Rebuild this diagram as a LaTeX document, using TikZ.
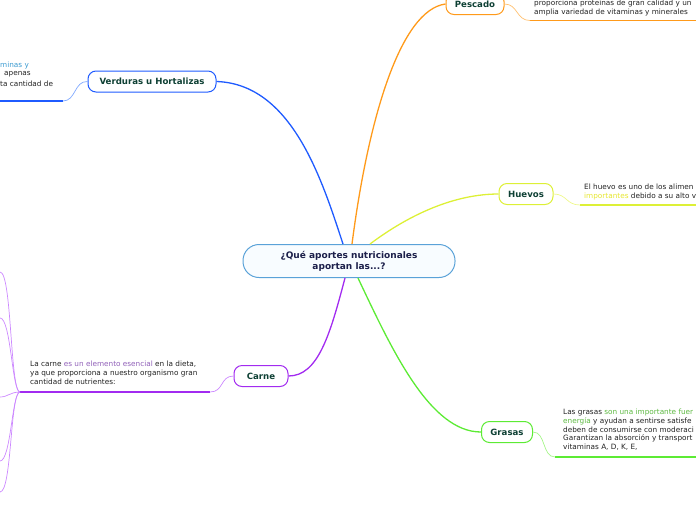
\documentclass[tikz,border=0pt]{standalone}
\usepackage{fontspec}
\setmainfont{DejaVu Sans}
\definecolor{cBlue}{HTML}{1F5BFF}
\definecolor{cBlueL}{HTML}{7FA8FF}
\definecolor{cBlueT}{HTML}{3A9AD0}
\definecolor{cOr}{HTML}{FF9A1A}
\definecolor{cOrL}{HTML}{FFC070}
\definecolor{cYel}{HTML}{DDF036}
\definecolor{cYelL}{HTML}{EEF88A}
\definecolor{cYelT}{HTML}{E6E62E}
\definecolor{cPur}{HTML}{A22BF0}
\definecolor{cPurL}{HTML}{CC88FF}
\definecolor{cPurT}{HTML}{9060B8}
\definecolor{cGr}{HTML}{5CEB34}
\definecolor{cGrL}{HTML}{A6F58A}
\definecolor{cGrT}{HTML}{5CB840}
\definecolor{cCen}{HTML}{5AA2D8}
\definecolor{cCenF}{HTML}{F8FCFF}
\definecolor{lblText}{HTML}{0E4034}
\definecolor{cenText}{HTML}{1C1F4A}
\definecolor{bodyText}{HTML}{222222}
\tikzset{
  lbl/.style={draw, line width=1pt, rounded corners=8pt, fill=white, text=lblText,
    font=\fontsize{8.6}{10}\selectfont\bfseries, inner sep=0pt, minimum height=21pt},
  body/.style={anchor=north west, align=left, inner sep=0pt, text=bodyText,
    font=\fontsize{7.3}{8.9}\selectfont},
  mainln/.style={line width=1.3pt},
  subln/.style={line width=0.7pt},
  uline/.style={line width=1.5pt}
}
\begin{document}
\begin{tikzpicture}[x=1pt,y=-1pt]
\useasboundingbox (0,0) rectangle (696,520);
\clip (0,0) rectangle (696,520);

% central
\node[draw=cCen, line width=1pt, fill=cCenF, rounded corners=16pt, minimum width=212pt,
  minimum height=33pt, inner sep=0pt, align=center, text=cenText,
  font=\fontsize{9}{11}\selectfont\bfseries] (center) at (349,261)
  {¿Qué aportes nutricionales\\aportan las...?};

% labels
\node[lbl, draw=cBlue, minimum width=128pt] (verd) at (152,81.5) {Verduras u Hortalizas};
\node[lbl, draw=cOr, minimum width=58pt] (pesc) at (475,4) {Pescado};
\node[lbl, draw=cYel, minimum width=54pt] (huev) at (526,194) {Huevos};
\node[lbl, draw=cPur, minimum width=54pt] (carn) at (261,376) {Carne};
\node[lbl, draw=cGr, minimum width=51pt] (gras) at (507,432) {Grasas};

% main connectors
\draw[mainln, cBlue] ([xshift=-6pt]center.north) .. controls (322,180) and (292,84) .. (verd.east);
\draw[mainln, cOr] ([xshift=3pt]center.north) .. controls (368,120) and (400,10) .. (pesc.west);
\draw[mainln, cYel] ([xshift=21pt]center.north) .. controls (410,214) and (455,194) .. (huev.west);
\draw[mainln, cPur] ([xshift=-4pt]center.south) .. controls (330,335) and (318,376) .. (carn.east);
\draw[mainln, cGr] ([xshift=9pt]center.south) .. controls (392,350) and (430,432) .. (gras.west);

% Verduras text
\node[body] (verdT1) at (0,62) {\textcolor{cBlueT}{minas y}};
\node[body] (verdT2) at (4,71) {apenas};
\node[body] (verdT3) at (0,80.5) {ta cantidad de};
\coordinate (verdU0) at (0,101);
\coordinate (verdU1) at (63,101);
\draw[uline, cBlue] (verdU0) -- (verdU1);
\draw[subln, cBlueL] (verdU1) .. controls (76,101) and (74,81) .. (verd.west);

% Pescado text
\node[body] (pescT) at (534,-0.5) {proporciona proteínas de gran calidad y un\\amplia variedad de vitaminas y minerales};
\coordinate (pescU0) at (530,20.5);
\coordinate (pescU1) at (696,20.5);
\draw[uline, cOr] (pescU0) -- (pescU1);
\draw[subln, cOrL] (pesc.east) .. controls (518,4) and (516,20.5) .. (pescU0);

% Huevos text
\node[body] (huevT) at (584,184) {El huevo es uno de los alimen\\\textcolor{cYelT}{importantes} debido a su alto v};
\coordinate (huevU0) at (580,205);
\coordinate (huevU1) at (696,205);
\draw[uline, cYel] (huevU0) -- (huevU1);
\draw[subln, cYelL] (huev.east) .. controls (567,194) and (566,205) .. (huevU0);

% Carne text
\node[body] (carnT) at (30,361) {La carne \textcolor{cPurT}{es un elemento esencial} en la dieta,\\ya que proporciona a nuestro organismo gran\\cantidad de nutrientes:};
\coordinate (carnU0) at (20,392);
\coordinate (carnU1) at (210,392);
\draw[uline, cPur] (carnU0) -- (carnU1);
\draw[subln, cPurL] (carnU1) .. controls (224,392) and (220,376) .. (carn.west);

% Carne sub-branches
\coordinate (cs1) at (0,272);
\coordinate (cs2) at (0,318);
\coordinate (cs3) at (0,397);
\coordinate (cs4) at (0,461);
\coordinate (cs5) at (0,492);
\draw[subln, cPurL] (carnU0) .. controls (10,392) and (12,272) .. (cs1);
\draw[subln, cPurL] (carnU0) .. controls (12,392) and (11,318) .. (cs2);
\draw[subln, cPurL] (carnU0) .. controls (10,392) and (8,397) .. (cs3);
\draw[subln, cPurL] (carnU0) .. controls (12,392) and (11,461) .. (cs4);
\draw[subln, cPurL] (carnU0) .. controls (10,392) and (12,492) .. (cs5);

% Grasas text
\node[body] (grasT) at (563,408.5) {Las grasas \textcolor{cGrT}{son una importante fuer}\\\textcolor{cGrT}{energía} y ayudan a sentirse satisfe\\deben de consumirse con moderaci\\Garantizan la absorción y transport\\vitaminas A, D, K, E,};
\coordinate (grasU0) at (555,457);
\coordinate (grasU1) at (696,457);
\draw[uline, cGr] (grasU0) -- (grasU1);
\draw[subln, cGrL] (gras.east) .. controls (546,432) and (542,457) .. (grasU0);
\end{tikzpicture}
\end{document}
